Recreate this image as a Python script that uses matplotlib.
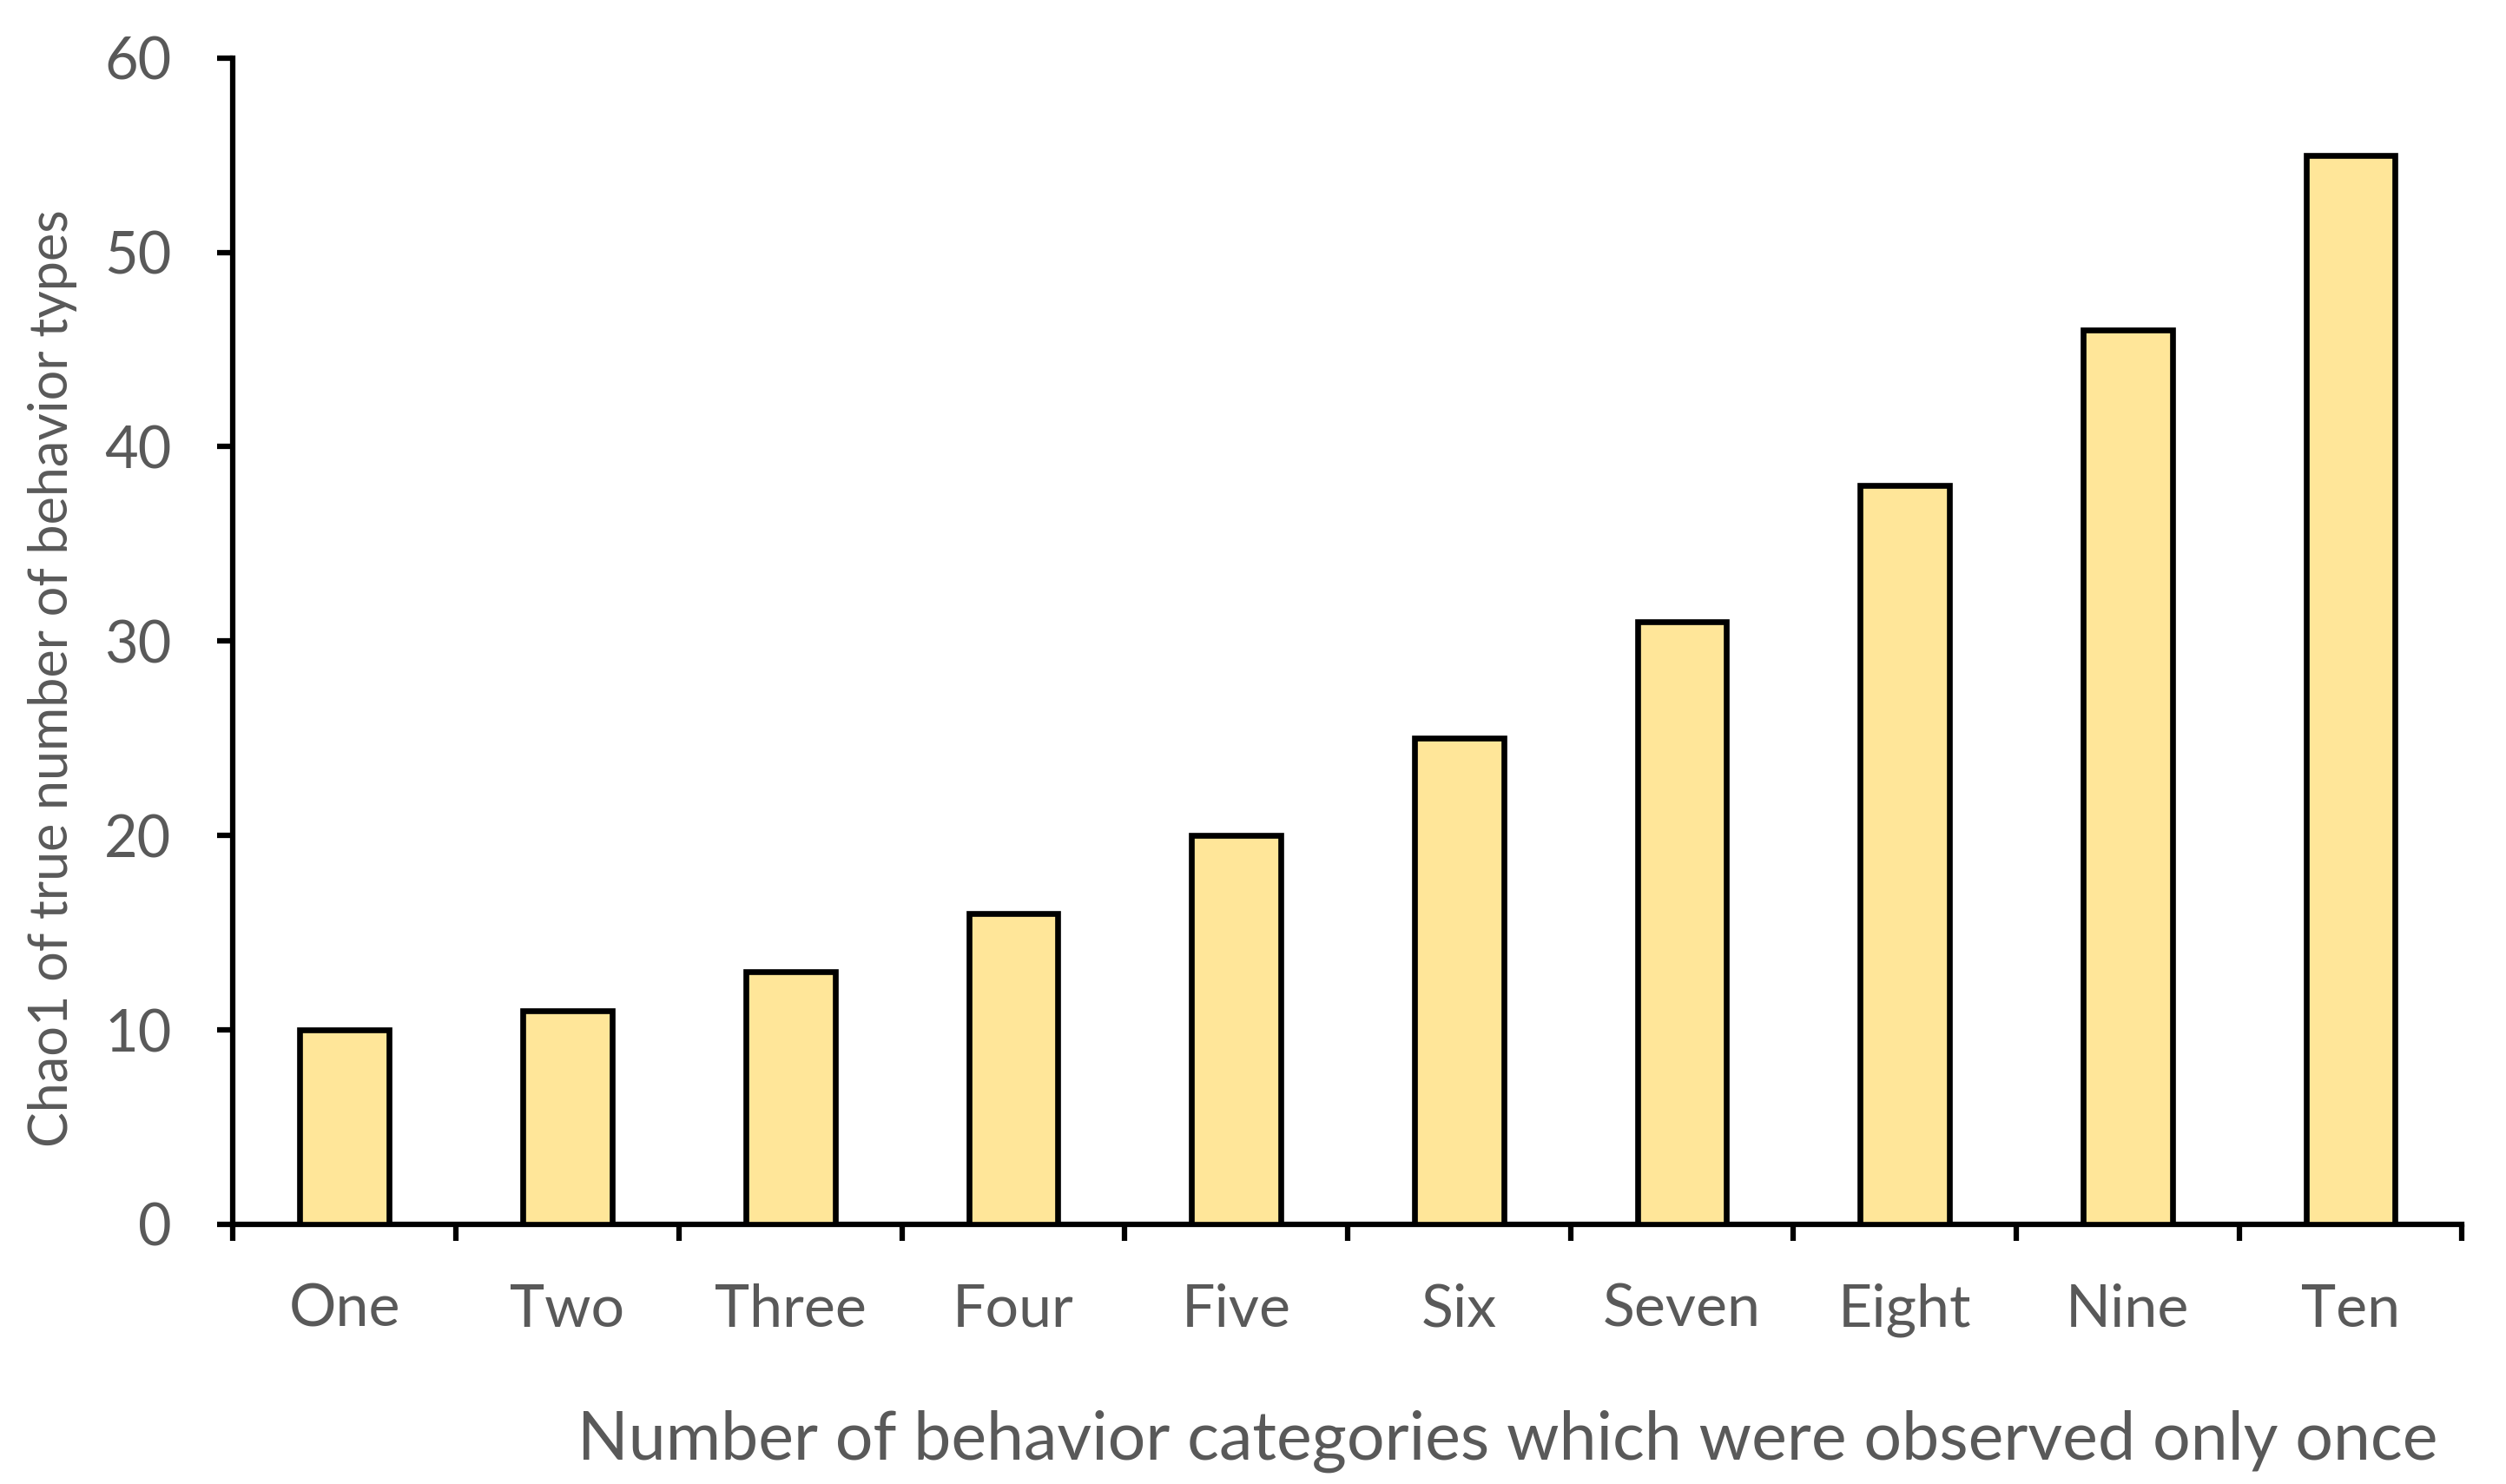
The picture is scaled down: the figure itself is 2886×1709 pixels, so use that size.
import matplotlib

matplotlib.use('Agg')
import matplotlib.pyplot as plt
from matplotlib.ticker import FixedLocator

categories = ["One", "Two", "Three", "Four", "Five", "Six", "Seven", "Eight", "Nine", "Ten"]
chao1_values = [10, 11, 13, 16, 20, 25, 31, 38, 46, 55]
y_ticks = [0, 10, 20, 30, 40, 50, 60]

text_color = '#595959'
bar_color = '#FFE699'

fig = plt.figure(figsize=(28.86, 17.09), dpi=100)
ax = fig.add_axes([0.093, 0.175, 0.8895, 0.786])

x = list(range(len(categories)))
ax.bar(x, chao1_values, width=0.4, color=bar_color, edgecolor='black', linewidth=4.8, zorder=3)

ax.set_xlim(-0.5, len(categories) - 0.5)
ax.set_ylim(0, 60)

# spines: only left and bottom
for side in ['top', 'right']:
    ax.spines[side].set_visible(False)
for side in ['left', 'bottom']:
    ax.spines[side].set_linewidth(4.5)
    ax.spines[side].set_capstyle('projecting')

ax.set_yticks(y_ticks)
ax.tick_params(axis='y', direction='out', length=13, width=4.5, pad=38,
               labelsize=48, labelcolor=text_color)

# category labels at centres, tick marks at the boundaries
ax.set_xticks(x)
ax.set_xticklabels(categories, fontfamily='Lato')
ax.tick_params(axis='x', which='major', length=0, pad=49, labelsize=49, labelcolor=text_color)
ax.xaxis.set_minor_locator(FixedLocator([i - 0.5 for i in range(len(categories) + 1)]))
ax.tick_params(axis='x', which='minor', direction='out', length=14, width=4.5)

for lbl in ax.get_yticklabels():
    lbl.set_fontfamily('Lato')

ax.set_xlabel("Number of behavior categories which were observed only once",
              fontsize=55.5, color=text_color, fontfamily='Lato', ha='right', va='center')
ax.xaxis.set_label_coords(0.989, -0.186)

ax.set_ylabel("Chao1 of true number of behavior types",
              fontsize=44, color=text_color, fontfamily='Lato', va='center')
ax.yaxis.set_label_coords(-0.081, 0.468)

fig.savefig("out.png", dpi=100)
plt.close(fig)
